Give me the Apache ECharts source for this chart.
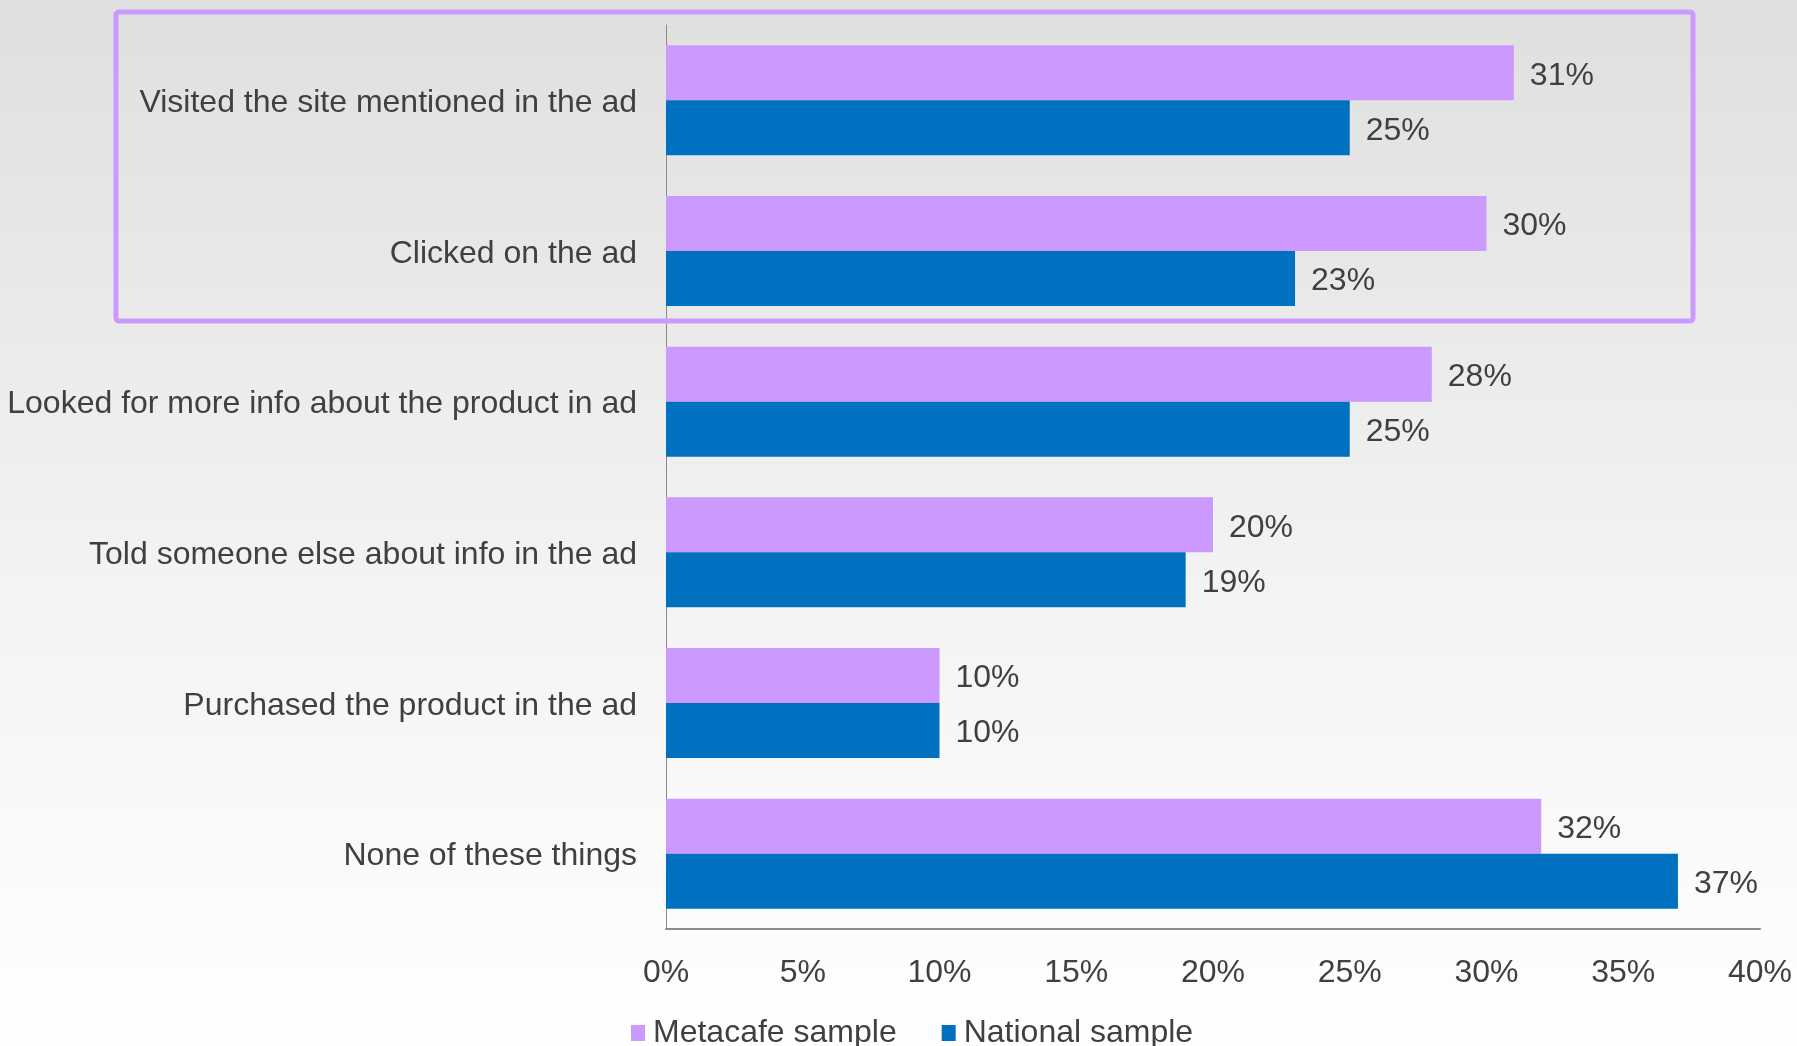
<!DOCTYPE html>
<html>
<head>
<meta charset="utf-8">
<style>
  html, body { margin: 0; padding: 0; width: 100%; height: 100%; }
  body { background: linear-gradient(to bottom, #dfdfdf 0%, #f3f3f3 55%, #ffffff 100%); }
  #chart { width: 1797px; height: 1046px; }
</style>
<script src="https://cdn.jsdelivr.net/npm/echarts@6/dist/echarts.min.js"></script>
</head>
<body>
<div id="chart"></div>
<script>
// Ad responses: share of each sample that did each thing after seeing an ad
const categories = [
  'Visited the site mentioned in the ad',
  'Clicked on the ad',
  'Looked for more info about the product in ad',
  'Told someone else about info in the ad',
  'Purchased the product in the ad',
  'None of these things'
];
const metacafeValues = [31, 30, 28, 20, 10, 32];
const nationalValues = [25, 23, 25, 19, 10, 37];
const seriesNames = ['Metacafe sample', 'National sample'];

const FONT = '"Liberation Sans", Arial, sans-serif';
const TEXT = '#404040';

const chart = echarts.init(document.getElementById('chart'), null, { renderer: 'canvas' });

const labelStyle = {
  show: true,
  position: 'right',
  distance: 16,
  offset: [0, 3],
  formatter: '{c}%',
  color: TEXT,
  fontFamily: FONT,
  fontSize: 32
};

chart.setOption({
  backgroundColor: 'transparent',
  animation: false,
  grid: { left: 666, right: 37, top: 25, bottom: 117, containLabel: false },
  legend: {
    data: seriesNames,
    left: 631,
    top: 1017,
    padding: 0,
    icon: 'rect',
    itemWidth: 14,
    itemHeight: 16,
    itemGap: 45,
    textStyle: { color: TEXT, fontFamily: FONT, fontSize: 32, padding: [0, 0, 0, 3] }
  },
  xAxis: {
    type: 'value',
    min: 0,
    max: 40,
    interval: 5,
    axisLine: { show: true, lineStyle: { color: '#8c8c8c', width: 2 } },
    axisTick: { show: false },
    splitLine: { show: false },
    axisLabel: {
      formatter: '{value}%',
      color: TEXT,
      fontFamily: FONT,
      fontSize: 32,
      margin: 28
    }
  },
  yAxis: {
    type: 'category',
    data: categories,
    inverse: true,
    axisLine: { show: true, lineStyle: { color: '#8c8c8c', width: 1 } },
    axisTick: { show: false },
    axisLabel: {
      margin: 29,
      formatter: '{v|{value}}',
      rich: {
        v: {
          color: TEXT,
          fontFamily: FONT,
          fontSize: 32,
          padding: [6, 0, 0, 0]
        }
      }
    }
  },
  series: [
    {
      name: seriesNames[0],
      type: 'bar',
      data: metacafeValues,
      itemStyle: { color: '#cc99ff' },
      barGap: '0%',
      barCategoryGap: '27%',
      label: labelStyle
    },
    {
      name: seriesNames[1],
      type: 'bar',
      data: nationalValues,
      itemStyle: { color: '#0070c0' },
      barGap: '0%',
      barCategoryGap: '27%',
      label: labelStyle
    }
  ],
  graphic: [
    {
      // highlight frame around the first two responses
      type: 'rect',
      shape: { x: 116, y: 12, width: 1577, height: 309, r: 3 },
      style: { fill: 'none', stroke: '#cc99ff', lineWidth: 5 },
      z: 100
    }
  ]
});
</script>
</body>
</html>
